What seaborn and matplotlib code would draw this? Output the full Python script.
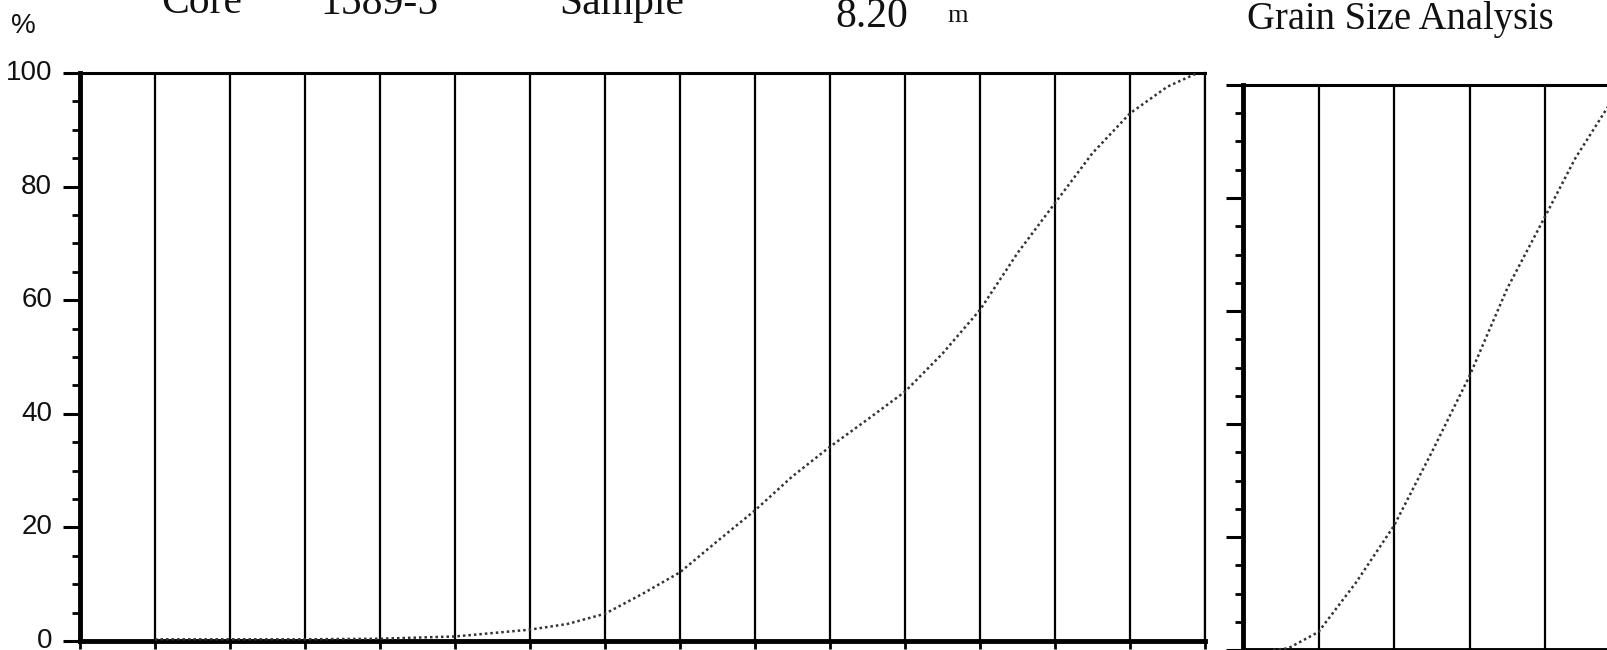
import matplotlib
matplotlib.use("Agg")
import matplotlib.pyplot as plt
import matplotlib.transforms as mtransforms
import seaborn as sns
import pandas as pd
from matplotlib.ticker import MultipleLocator, NullFormatter

# ---- data ----
left_x = [1, 2, 3, 4, 5, 5.5, 6, 6.5, 7, 7.5, 8, 8.5, 9, 9.5, 10, 10.5,
          11, 11.5, 12, 12.5, 13, 13.5, 14, 14.5, 14.9]
left_pct = [0.3, 0.3, 0.3, 0.4, 0.8, 1.4, 2.0, 3.0, 4.8, 8.3, 12.1, 17.6, 23.0, 29.0,
            34.2, 39.0, 43.9, 50.6, 58.3, 68.3, 77.1, 85.9, 92.9, 97.6, 100]
right_x = [0.4, 0.6, 1, 1.5, 2, 2.5, 3, 3.5, 4, 4.4, 4.85]
right_pct = [0, 0.3, 3.2, 12, 22, 35, 48.5, 64, 76.7, 87, 96.5]
y_ticks = [0, 20, 40, 60, 80, 100]
y_labels = ["0", "20", "40", "60", "80", "100"]
header_left = ["Core", "1589-5", "Sample", "8.20"]
header_unit = "m"
header_right = "Grain Size Analysis"

sns.set_style("white")
plt.rcParams["font.family"] = ["Liberation Sans", "DejaVu Sans"]

W, H = 1607, 650
fig = plt.figure(figsize=(W / 100, H / 100), dpi=100)
fig.patch.set_facecolor("white")

ax1 = fig.add_axes([80 / W, 1 - 641 / H, 1125 / W, (641 - 73) / H])
ax2 = fig.add_axes([1243 / W, 0.0, 6 * 75.5 / W, (650 - 85) / H])

df_l = pd.DataFrame({"x": left_x, "pct": left_pct})
df_r = pd.DataFrame({"x": right_x, "pct": right_pct})

line_kw = dict(color="#333333", lw=1.8, linestyle=(0, (1, 1.2)))

for ax, df, xmax in ((ax1, df_l, 15), (ax2, df_r, 6)):
    ax.set_xlim(0, xmax)
    ax.set_ylim(0, 100)
    for xv in range(1, xmax + 1):
        ax.axvline(xv, color="black", lw=1.6, zorder=1)
    sns.lineplot(data=df, x="x", y="pct", ax=ax, zorder=3, **line_kw)
    ax.set_xlabel("")
    ax.set_ylabel("")
    for s in ("left", "bottom"):
        ax.spines[s].set_linewidth(3.5)
        ax.spines[s].set_color("black")
    ax.spines["top"].set_linewidth(2.2)
    ax.spines["top"].set_color("black")
    ax.spines["right"].set_linewidth(1.6)
    ax.spines["right"].set_color("black")
    ax.xaxis.set_major_locator(MultipleLocator(1))
    ax.xaxis.set_major_formatter(NullFormatter())
    ax.tick_params(axis="x", direction="out", length=6, width=2, color="black", bottom=True)
    ax.set_yticks(y_ticks)
    ax.yaxis.set_minor_locator(MultipleLocator(5))
    ax.tick_params(axis="y", which="major", direction="out", length=12, width=2.2,
                   color="black", left=True)
    ax.tick_params(axis="y", which="minor", direction="out", length=6, width=2,
                   color="black", left=True)
    ax.set_facecolor("white")

ax1.set_yticklabels(y_labels, fontsize=20, color="#111111")
ax1.tick_params(axis="y", which="major", pad=8)
shift = mtransforms.ScaledTranslation(0, 3 / 100, fig.dpi_scale_trans)
for lab in ax1.get_yticklabels():
    lab.set_transform(lab.get_transform() + shift)
ax2.set_yticklabels([])

fig.text(11 / W, 1 - 26 / H, "%", fontsize=20, color="#111111", va="center", ha="left")

serif = ["Liberation Serif", "DejaVu Serif"]
hx = [161, 320, 559, 835]
hb = [13, 14, 14, 27]
for t, x, b in zip(header_left, hx, hb):
    fig.text(x / W, 1 - b / H, t, fontsize=30, family=serif, color="#111111",
             ha="left", va="baseline")
fig.text(947 / W, 1 - 22 / H, header_unit, fontsize=19, family=serif, color="#111111",
         ha="left", va="baseline")
fig.text(1247 / W, 1 - 29 / H, header_right, fontsize=27.8, family=serif,
         color="#111111", ha="left", va="baseline")

fig.savefig("out.png", dpi=100, facecolor="white")
